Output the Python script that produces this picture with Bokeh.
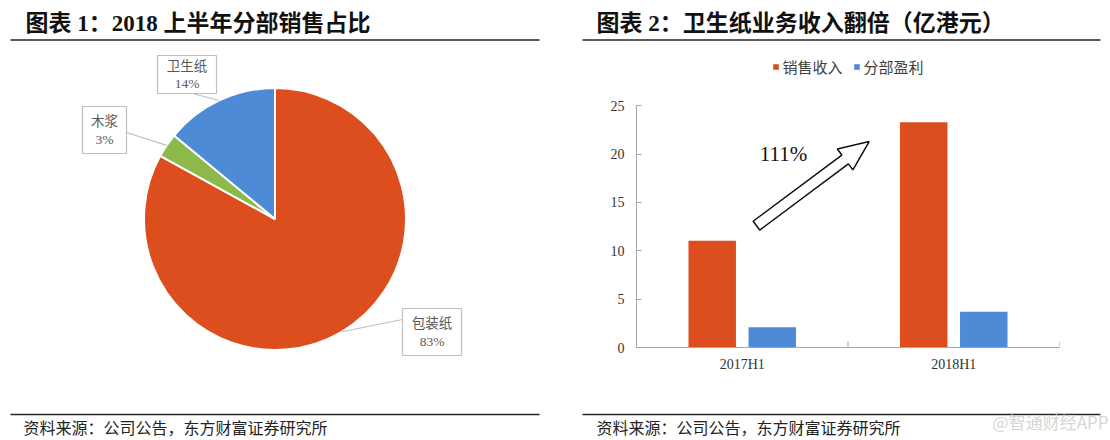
import math
from bokeh.plotting import figure
from bokeh.layouts import row, column
from bokeh.models import (Range1d, FactorRange, ColumnDataSource, Legend, LegendItem,
                          FixedTicker)
from bokeh.transform import dodge
from bokeh.core.properties import value
from bokeh.embed import file_html
from bokeh.resources import INLINE

# ---------------- data ----------------
pie_labels = ["包装纸", "木浆", "卫生纸"]
pie_shares = [83, 3, 14]
pie_colors = ["#DC4E1E", "#8DB94C", "#4E8BD6"]

periods = ["2017H1", "2018H1"]
sales = [11.04, 23.3]
profit = [2.1, 3.7]
series_names = ["销售收入", "分部盈利"]
series_colors = ["#DC4E1E", "#4E8BD6"]
y_ticks = [0, 5, 10, 15, 20, 25]
growth_label = "111%"

title1 = "图表 1：2018 上半年分部销售占比"
title2 = "图表 2：卫生纸业务收入翻倍（亿港元）"
source_text = "资料来源：公司公告，东方财富证券研究所"
watermark = "@智通财经APP"

# ---------------- fonts / styles ----------------
MIX = "'Liberation Serif', 'Noto Sans CJK SC', serif"
CJK = "'Noto Sans CJK SC', sans-serif"
RULE = "#262626"
LABEL_GRAY = "#595959"
BOX_GRAY = "#BFBFBF"
AXIS_GRAY = "#A6A6A6"


def no_align(p):
    if "frame_align" in p.properties():
        p.frame_align = False
    return p


def canvas(width, height, x0, x1, y0, y1):
    p = figure(width=width, height=height, x_range=Range1d(x0, x1), y_range=Range1d(y0, y1),
               output_backend="svg", toolbar_location=None,
               x_axis_location=None, y_axis_location=None, min_border=0)
    p.grid.visible = False
    p.outline_line_color = None
    p.background_fill_color = "white"
    p.border_fill_color = "white"
    return no_align(p)


# ================= LEFT PANEL (pie) =================
# coordinates: x = page px, y = -page px
left = canvas(563, 440, 0, 563, -440, 0)

left.text(x=[25], y=[-23], text=[title1], text_font=value(MIX), text_font_style="bold",
          text_font_size="23px", text_baseline="middle", text_color="#111111")
left.segment(x0=[10], y0=[-39.5], x1=[539], y1=[-39.5], line_color=RULE, line_width=1.6)

PIE_CX, PIE_CY, PIE_R = 274.5, -218.5, 131
total = float(sum(pie_shares))
starts, ends, mids = [], [], []
cum = 0.0
for s in pie_shares:
    a0 = math.pi / 2 - 2 * math.pi * cum / total
    cum += s
    a1 = math.pi / 2 - 2 * math.pi * cum / total
    starts.append(a0)
    ends.append(a1)
    mids.append((a0 + a1) / 2)

left.wedge(x=PIE_CX, y=PIE_CY, radius=PIE_R, start_angle=starts, end_angle=ends,
           direction="clock", fill_color=pie_colors, line_color="white", line_width=2)

# callout boxes (x0, x1, top, bottom) and leader anchors on the box
boxes = {"包装纸": (402, 461, 308, 355), "木浆": (82, 126, 106, 153), "卫生纸": (157, 216, 55, 93)}
anchors = {"包装纸": (402, 319), "木浆": (126, 132), "卫生纸": (192, 93)}
for name, share, mid in zip(pie_labels, pie_shares, mids):
    bx0, bx1, bt, bb = boxes[name]
    left.quad(left=bx0, right=bx1, top=-bt, bottom=-bb, fill_color="white",
              line_color=BOX_GRAY, line_width=1.2)
    ax, ay = anchors[name]
    ex = PIE_CX + PIE_R * math.cos(mid)
    ey = PIE_CY + PIE_R * math.sin(mid)
    left.segment(x0=[ax], y0=[-ay], x1=[ex], y1=[ey], line_color=BOX_GRAY, line_width=1.2)
    cx = (bx0 + bx1) / 2
    cy = (bt + bb) / 2
    left.text(x=[cx], y=[-(cy - 10)], text=[name], text_font=value(CJK), text_font_size="13.5px",
              text_align="center", text_baseline="middle", text_color=LABEL_GRAY)
    left.text(x=[cx], y=[-(cy + 9)], text=["%d%%" % share], text_font=value(MIX),
              text_font_size="13.5px", text_align="center", text_baseline="middle",
              text_color=LABEL_GRAY)

left.segment(x0=[10], y0=[-414], x1=[539], y1=[-414], line_color=RULE, line_width=1.6)
left.text(x=[23], y=[-426], text=[source_text], text_font=value(CJK), text_font_size="16px",
          text_baseline="middle", text_color="#222222")

# ================= RIGHT PANEL (bars) =================
header = canvas(547, 50, 563, 1110, -50, 0)
header.text(x=[596], y=[-23], text=[title2], text_font=value(MIX), text_font_style="bold",
            text_font_size="23px", text_baseline="middle", text_color="#111111")
header.segment(x0=[582], y0=[-39.5], x1=[1100], y1=[-39.5], line_color=RULE, line_width=1.6)

FRAME_H = 297
Y_TOP = 30.71
bar = figure(width=547, height=345, x_range=FactorRange(*periods), y_range=Range1d(0, Y_TOP),
             output_backend="svg", toolbar_location=None,
             min_border_left=73, min_border_right=51, min_border_top=0, min_border_bottom=48)
no_align(bar)
bar.grid.visible = False
bar.outline_line_color = None

src = ColumnDataSource(dict(period=periods, sales=sales, profit=profit))
BAR_W = 0.2246
r1 = bar.vbar(x=dodge("period", -0.142, range=bar.x_range), top="sales", width=BAR_W,
              source=src, fill_color=series_colors[0], line_color=None)
r2 = bar.vbar(x=dodge("period", 0.142, range=bar.x_range), top="profit", width=BAR_W,
              source=src, fill_color=series_colors[1], line_color=None)

yax = bar.yaxis[0]
yax.bounds = (0, 25)
yax.ticker = FixedTicker(ticks=y_ticks)
yax.axis_line_color = AXIS_GRAY
yax.major_tick_line_color = AXIS_GRAY
yax.major_tick_in = 5
yax.major_tick_out = 0
yax.minor_tick_line_color = None
yax.major_label_standoff = 12
yax.major_label_text_font = MIX
yax.major_label_text_font_size = "14px"
yax.major_label_text_color = "#333333"

xax = bar.xaxis[0]
xax.axis_line_color = AXIS_GRAY
xax.major_tick_line_color = None
xax.major_tick_in = 0
xax.major_tick_out = 0
xax.major_label_standoff = 9
xax.major_label_text_font = MIX
xax.major_label_text_font_size = "14px"
xax.major_label_text_color = "#333333"

# category boundary ticks (inward) on the x axis
n = len(periods)
bar.segment(x0=list(range(1, n + 1)), y0=[0] * n, x1=list(range(1, n + 1)), y1=[0.62] * n,
            line_color=AXIS_GRAY, line_width=1)

legend = Legend(items=[LegendItem(label=series_names[0], renderers=[r1]),
                       LegendItem(label=series_names[1], renderers=[r2])],
                orientation="horizontal", location="top_center",
                glyph_width=7, glyph_height=7, label_standoff=4, spacing=10,
                padding=4, margin=6, label_height=20,
                label_text_font=CJK, label_text_font_size="15px", label_text_color="#404040",
                border_line_color=None, background_fill_alpha=0)
bar.add_layout(legend)

# growth arrow (hollow block arrow) between the two revenue bars
PX_X = 423 / 2.0
PX_Y = FRAME_H / Y_TOP
ARROW_TAIL = (0.567, 12.6)
ARROW_TIP = (1.10, 21.3)


def arrow_polygon(tail, tip, shaft_half=5.5, head_half=13.0, head_len=30.0):
    tx, ty = tail[0] * PX_X, tail[1] * PX_Y
    hx, hy = tip[0] * PX_X, tip[1] * PX_Y
    L = math.hypot(hx - tx, hy - ty)
    ux, uy = (hx - tx) / L, (hy - ty) / L
    nx, ny = -uy, ux
    bx, by = hx - ux * head_len, hy - uy * head_len
    pts = [(tx + nx * shaft_half, ty + ny * shaft_half),
           (bx + nx * shaft_half, by + ny * shaft_half),
           (bx + nx * head_half, by + ny * head_half),
           (hx, hy),
           (bx - nx * head_half, by - ny * head_half),
           (bx - nx * shaft_half, by - ny * shaft_half),
           (tx - nx * shaft_half, ty - ny * shaft_half)]
    return [p[0] / PX_X for p in pts], [p[1] / PX_Y for p in pts]


axs, ays = arrow_polygon(ARROW_TAIL, ARROW_TIP)
bar.patch(x=axs, y=ays, fill_color="white", line_color="#111111", line_width=1.5)
bar.text(x=[0.695], y=[19.96], text=[growth_label], text_font=value(MIX), text_font_size="21px",
         text_align="center", text_baseline="middle", text_color="#111111")

footer = canvas(547, 45, 563, 1110, -440, -395)
footer.segment(x0=[582], y0=[-414], x1=[1100], y1=[-414], line_color=RULE, line_width=1.6)
footer.text(x=[596], y=[-426], text=[source_text], text_font=value(CJK), text_font_size="16px",
            text_baseline="middle", text_color="#222222")
footer.text(x=[1108], y=[-421], text=[watermark], text_font=value(CJK), text_font_size="17px",
            text_align="right", text_baseline="middle", text_color="#D6D6D6")

layout = row(left, column(header, bar, footer, spacing=0), spacing=0)

open("out.html", "w").write(file_html(layout, INLINE))
